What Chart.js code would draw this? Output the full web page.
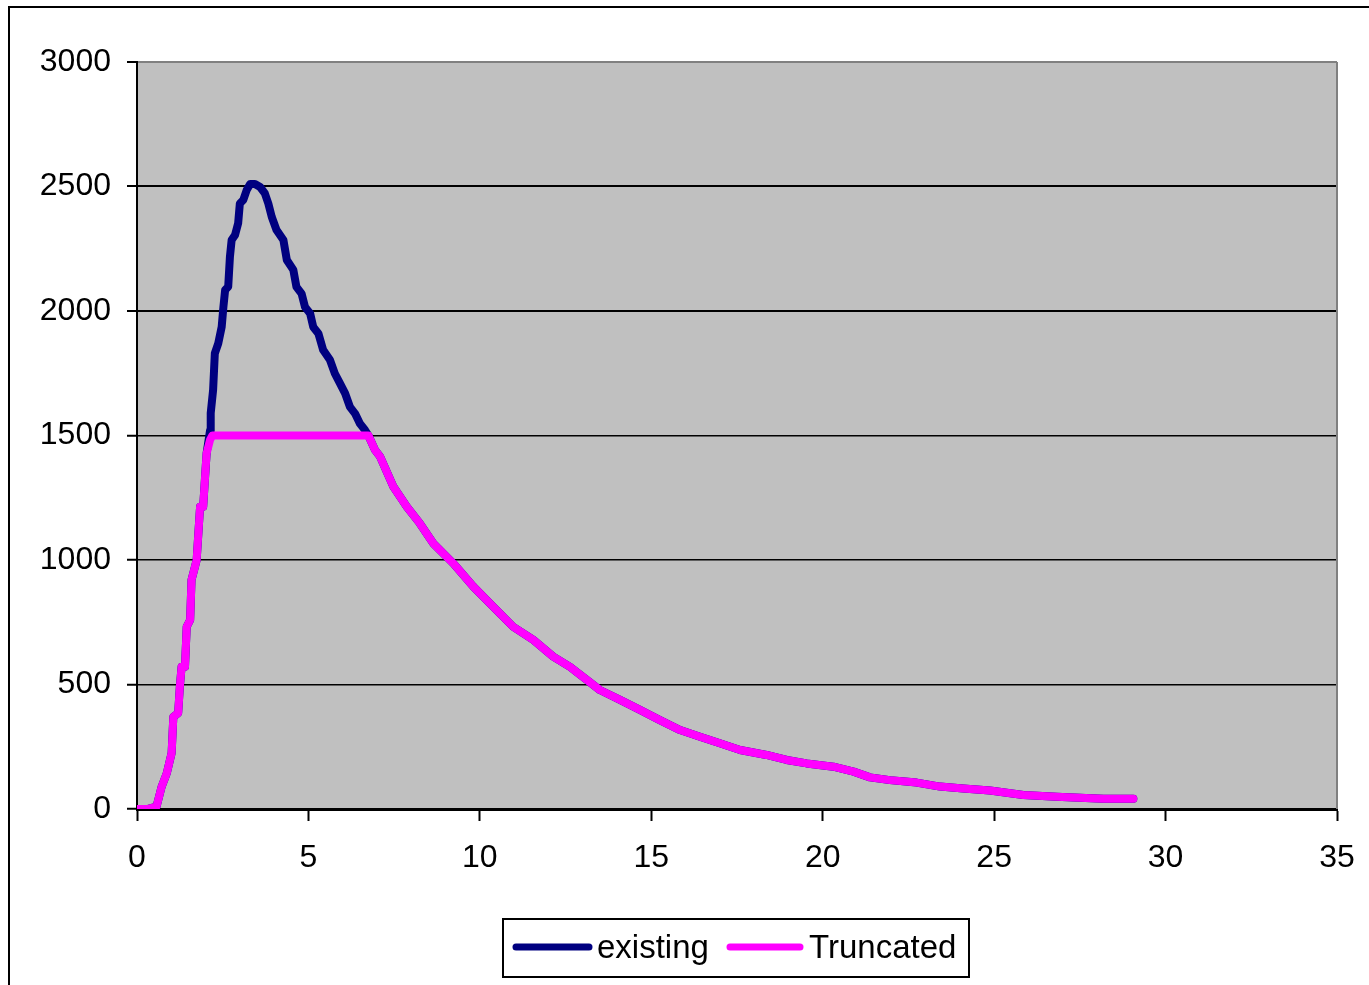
<!DOCTYPE html>
<html>
<head>
<meta charset="utf-8">
<title>existing vs Truncated</title>
<script src="https://cdn.jsdelivr.net/npm/chart.js@4.4.1/dist/chart.umd.min.js"></script>
<style>
  html, body { margin: 0; padding: 0; background: #fff; }
  canvas { display: block; }
</style>
</head>
<body>
<canvas id="chart" width="1369" height="985"></canvas>
<script>
// Series "existing": time vs value
const existingX = [0, 0.3, 0.57, 0.72, 0.87, 1.01, 1.06, 1.2, 1.25, 1.3, 1.4, 1.45, 1.55, 1.59, 1.69, 1.74, 1.79, 1.84, 1.93, 1.98, 2.03, 2.13, 2.15, 2.22, 2.27, 2.37, 2.47, 2.52, 2.57, 2.66, 2.71, 2.76, 2.86, 2.95, 3.0, 3.1, 3.2, 3.3, 3.44, 3.59, 3.73, 3.83, 3.93, 4.07, 4.27, 4.37, 4.56, 4.65, 4.8, 4.9, 5.05, 5.14, 5.29, 5.43, 5.63, 5.77, 5.92, 6.07, 6.21, 6.36, 6.5, 6.65, 6.75, 6.94, 7.09, 7.48, 7.87, 8.25, 8.64, 9.22, 9.81, 10.39, 10.97, 11.56, 12.14, 12.63, 13.5, 14.09, 14.67, 15.25, 15.84, 16.42, 17.0, 17.59, 18.36, 18.95, 19.53, 20.31, 20.9, 21.38, 21.96, 22.74, 23.42, 24.1, 24.88, 25.85, 26.82, 28.18, 29.06];
const existingY = [0, 0, 10, 90, 144, 225, 370, 385, 491, 571, 571, 732, 759, 920, 973, 1000, 1107, 1214, 1214, 1321, 1428, 1520, 1590, 1683, 1830, 1870, 1936, 2016, 2084, 2097, 2217, 2285, 2305, 2352, 2432, 2446, 2486, 2510, 2510, 2498, 2472, 2432, 2378, 2325, 2285, 2205, 2165, 2097, 2070, 2016, 1990, 1936, 1910, 1843, 1803, 1749, 1709, 1669, 1615, 1588, 1548, 1522, 1500, 1442, 1415, 1294, 1214, 1147, 1067, 987, 893, 812, 732, 679, 612, 571, 478, 438, 398, 357, 317, 290, 264, 237, 217, 197, 183, 170, 150, 127, 116, 106, 90, 82, 74, 56, 49, 41, 41];

// Series "Truncated": capped at 1500
const truncatedX = [0, 0.3, 0.57, 0.72, 0.87, 1.01, 1.06, 1.2, 1.25, 1.3, 1.4, 1.45, 1.55, 1.59, 1.69, 1.74, 1.79, 1.84, 1.93, 1.98, 2.03, 2.13, 2.2, 6.75, 6.94, 7.09, 7.48, 7.87, 8.25, 8.64, 9.22, 9.81, 10.39, 10.97, 11.56, 12.14, 12.63, 13.5, 14.09, 14.67, 15.25, 15.84, 16.42, 17.0, 17.59, 18.36, 18.95, 19.53, 20.31, 20.9, 21.38, 21.96, 22.74, 23.42, 24.1, 24.88, 25.85, 26.82, 28.18, 29.06];
const truncatedY = [0, 0, 10, 90, 144, 225, 370, 385, 491, 571, 571, 732, 759, 920, 973, 1000, 1107, 1214, 1214, 1321, 1428, 1482, 1500, 1500, 1442, 1415, 1294, 1214, 1147, 1067, 987, 893, 812, 732, 679, 612, 571, 478, 438, 398, 357, 317, 290, 264, 237, 217, 197, 183, 170, 150, 127, 116, 106, 90, 82, 74, 56, 49, 41, 41];

const xTicks = [0, 5, 10, 15, 20, 25, 30, 35];
const yTicks = [0, 500, 1000, 1500, 2000, 2500, 3000];

const seriesNames = ['existing', 'Truncated'];
const seriesColors = ['#000080', '#FF00FF'];

const FAMILY = '"Liberation Sans", Arial, sans-serif';
const FONT = { family: FAMILY, size: 32 };

function points(xs, ys) {
  return xs.map((x, i) => ({ x: x, y: ys[i] }));
}

// Gray plot background, right-hand frame edge, outer frame and boxed legend
const framePlugin = {
  id: 'frame',
  beforeDraw(chart) {
    const { ctx, chartArea: a } = chart;
    ctx.save();
    ctx.fillStyle = '#C0C0C0';
    ctx.fillRect(a.left, a.top, a.right - a.left, a.bottom - a.top);
    ctx.restore();
  },
  afterDraw(chart) {
    const { ctx, chartArea: a } = chart;
    ctx.save();
    // right edge of plot area
    ctx.strokeStyle = '#808080';
    ctx.lineWidth = 2;
    ctx.beginPath();
    ctx.moveTo(a.right, a.top);
    ctx.lineTo(a.right, a.bottom);
    ctx.stroke();

    // outer frame (left and top edges visible)
    ctx.fillStyle = '#000';
    ctx.fillRect(8, 6, 2, 985);
    ctx.fillRect(8, 6, 1369, 2);

    // legend
    const bx = 503, by = 919, bw = 466, bh = 58;
    ctx.fillStyle = '#fff';
    ctx.fillRect(bx, by, bw, bh);
    ctx.strokeStyle = '#000';
    ctx.lineWidth = 2;
    ctx.strokeRect(bx, by, bw, bh);

    const cy = 947;
    const items = [
      { x0: 516, x1: 589, tx: 597 },
      { x0: 730, x1: 800, tx: 809 }
    ];
    ctx.lineCap = 'round';
    ctx.lineWidth = 7;
    ctx.font = '33px ' + FAMILY;
    ctx.textBaseline = 'alphabetic';
    ctx.textAlign = 'left';
    items.forEach((it, i) => {
      ctx.strokeStyle = seriesColors[i];
      ctx.beginPath();
      ctx.moveTo(it.x0, cy);
      ctx.lineTo(it.x1, cy);
      ctx.stroke();
      ctx.fillStyle = '#000';
      ctx.fillText(seriesNames[i], it.tx, 958);
    });
    ctx.restore();
  }
};

const lineStyle = {
  borderWidth: 8,
  showLine: true,
  pointRadius: 0,
  tension: 0,
  borderCapStyle: 'round',
  borderJoinStyle: 'round'
};

new Chart(document.getElementById('chart'), {
  type: 'scatter',
  data: {
    datasets: [
      Object.assign({
        label: seriesNames[0],
        data: points(existingX, existingY),
        borderColor: seriesColors[0],
        backgroundColor: seriesColors[0],
        order: 2
      }, lineStyle),
      Object.assign({
        label: seriesNames[1],
        data: points(truncatedX, truncatedY),
        borderColor: seriesColors[1],
        backgroundColor: seriesColors[1],
        order: 1
      }, lineStyle)
    ]
  },
  options: {
    responsive: false,
    animation: false,
    devicePixelRatio: 1,
    layout: { padding: { left: 0, top: 62, right: 32, bottom: 116 } },
    plugins: {
      legend: { display: false },
      tooltip: { enabled: false }
    },
    scales: {
      x: {
        type: 'linear',
        min: 0,
        max: 35,
        afterBuildTicks(scale) { scale.ticks = xTicks.map(v => ({ value: v })); },
        afterFit(scale) {
          scale.height = 60;
          scale.paddingLeft = 0;
          scale.paddingRight = 0;
        },
        ticks: { font: FONT, color: '#000', padding: 18, maxRotation: 0, autoSkip: false,
                 callback: v => String(v) },
        grid: { drawOnChartArea: false, tickLength: 12, tickWidth: 2, tickColor: '#000' },
        border: { color: '#000', width: 3 }
      },
      y: {
        type: 'linear',
        min: 0,
        max: 3000,
        afterBuildTicks(scale) { scale.ticks = yTicks.map(v => ({ value: v })); },
        afterFit(scale) { scale.width = 137; },
        ticks: { font: FONT, color: '#000', padding: 16, autoSkip: false,
                 callback: v => String(v) },
        grid: {
          color: ctx => (ctx.tick && ctx.tick.value === 3000) ? '#808080' : '#000',
          lineWidth: ctx => (ctx.tick && ctx.tick.value >= 2000) ? 2 : 1.5,
          tickLength: 10,
          tickWidth: 2,
          tickColor: '#000'
        },
        border: { color: '#000', width: 2 }
      }
    }
  },
  plugins: [framePlugin]
});
</script>
</body>
</html>
